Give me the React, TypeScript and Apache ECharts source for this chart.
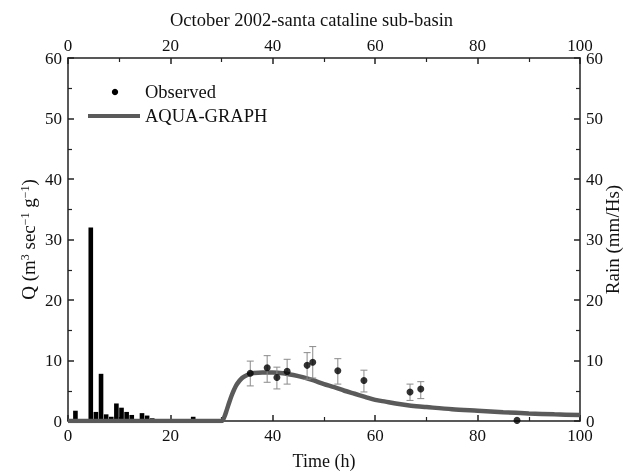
import React, { useEffect, useRef } from "react";
import * as echarts from "echarts";

const TITLE = "October 2002-santa cataline sub-basin";
const X_NAME = "Time (h)";
const RAIN_NAME = "Rain (mm/Hs)";

// Rain: hourly intervals (start hour) and intensity (mm/Hs)
const rainStart = [1, 4, 5, 6, 7, 8, 9, 10, 11, 12, 14, 15, 16, 24];
const rainValue = [1.7, 32, 1.5, 7.8, 1.1, 0.7, 2.9, 2.2, 1.5, 1.0, 1.3, 0.9, 0.45, 0.7];

// Observed discharge with error bars
const obsT = [35.6, 38.9, 40.8, 42.8, 46.7, 47.8, 52.7, 57.8, 66.8, 68.9, 87.7];
const obsQ = [7.9, 8.8, 7.2, 8.2, 9.2, 9.7, 8.3, 6.7, 4.8, 5.3, 0.1];
const errLo = [5.8, 6.4, 5.3, 6.1, 6.9, 7.1, 6.1, 4.8, 3.4, 3.7];
const errHi = [9.9, 10.8, 8.9, 10.2, 11.3, 12.3, 10.3, 8.4, 6.1, 6.5];

// AQUA-GRAPH model
const modelT = [0, 30, 30.5, 31, 31.5, 32, 32.5, 33, 34, 35, 36, 38, 40, 42, 44, 46, 48, 50, 52, 54, 56, 58, 60, 62, 64, 66, 68, 70, 75, 80, 85, 90, 95, 100];
const modelQ = [0, 0, 0.6, 1.8, 3.1, 4.3, 5.3, 6.1, 7.1, 7.6, 7.9, 8.0, 8.0, 7.9, 7.6, 7.2, 6.7, 6.1, 5.6, 5.0, 4.5, 4.0, 3.5, 3.2, 2.9, 2.65, 2.45, 2.3, 1.95, 1.7, 1.45, 1.25, 1.1, 1.0];

const FONT = "Liberation Serif";
const AX = "#222";

export default function App() {
  const ref = useRef<HTMLDivElement>(null);
  useEffect(() => {
    if (!ref.current) return;
    const chart = echarts.init(ref.current, undefined, { renderer: "svg" });
    const axisCommon = {
      type: "value",
      min: 0,
      interval: 20,
      max: 100,
      nameMoveOverlap: false,
      axisLine: { show: true, onZero: false, lineStyle: { color: AX, width: 1.5 } },
      axisTick: { show: true, inside: true, length: 6, lineStyle: { color: AX, width: 1.5 } },
      minorTick: { show: true, splitNumber: 2, length: 4, lineStyle: { color: AX, width: 1.2 } },
      splitLine: { show: false },
      axisLabel: { color: "#111", fontFamily: FONT, fontSize: 17, margin: 6 },
    };
    const yCommon = {
      ...axisCommon,
      max: 60,
      interval: 10,
    };
    chart.setOption({
      animation: false,
      textStyle: { fontFamily: FONT },
      title: {
        text: TITLE,
        left: "center",
        top: 5,
        textStyle: { fontFamily: FONT, fontWeight: "normal", fontSize: 18.5, color: "#111" },
      },
      grid: { left: 68, right: 43, top: 58, bottom: 52, outerBoundsMode: "none", containLabel: false },
      xAxis: [
        {
          ...axisCommon,
          position: "bottom",
          name: X_NAME,
          nameLocation: "middle",
          nameGap: 31,
          nameTextStyle: { fontFamily: FONT, fontSize: 18, color: "#111" },
        },
        { ...axisCommon, position: "top", axisLabel: { ...axisCommon.axisLabel, margin: 4 } },
      ],
      yAxis: [
        {
          ...yCommon,
          position: "left",
          name: "Q (m{sup|3} sec{sup|−1} g{sup|−1})",
          nameLocation: "middle",
          nameGap: 30,
          nameRotate: 90,
          nameTextStyle: {
            fontFamily: FONT,
            fontSize: 19,
            color: "#111",
            rich: { sup: { fontFamily: FONT, fontSize: 12, verticalAlign: "top", color: "#111" } },
          },
        },
        {
          ...yCommon,
          position: "right",
          name: RAIN_NAME,
          nameLocation: "middle",
          nameGap: 23,
          nameRotate: 90,
          nameTextStyle: { fontFamily: FONT, fontSize: 19, color: "#111" },
        },
      ],
      graphic: [
        { type: "circle", shape: { cx: 115, cy: 92, r: 3.2 }, style: { fill: "#000" }, z: 10 },
        { type: "text", x: 145, y: 92, style: { text: "Observed", fontFamily: FONT, fontSize: 18.5, fill: "#111", verticalAlign: "middle" }, z: 10 },
        { type: "line", shape: { x1: 88, y1: 116, x2: 140, y2: 116 }, style: { stroke: "#5a5a5a", lineWidth: 4 }, z: 10 },
        { type: "text", x: 145, y: 116, style: { text: "AQUA-GRAPH", fontFamily: FONT, fontSize: 18.5, fill: "#111", verticalAlign: "middle" }, z: 10 },
      ],
      series: [
        {
          name: "Rain",
          type: "custom",
          xAxisIndex: 0,
          yAxisIndex: 1,
          data: rainStart.map((s, i) => [s, rainValue[i]]),
          renderItem: (params: any, api: any) => {
            const s = api.value(0);
            const v = api.value(1);
            const p0 = api.coord([s, v]);
            const p1 = api.coord([s + 1, 0]);
            return {
              type: "rect",
              shape: { x: p0[0], y: p0[1], width: p1[0] - p0[0] - 0.5, height: p1[1] - p0[1] },
              style: { fill: "#000" },
            };
          },
          z: 2,
        },
        {
          name: "AQUA-GRAPH",
          type: "line",
          xAxisIndex: 0,
          yAxisIndex: 0,
          data: modelT.map((t, i) => [t, modelQ[i]]),
          smooth: 0.3,
          showSymbol: false,
          symbol: "none",
          lineStyle: { color: "#5a5a5a", width: 4.5 },
          z: 3,
        },
        {
          name: "Error",
          type: "custom",
          xAxisIndex: 0,
          yAxisIndex: 0,
          data: errLo.map((lo, i) => [obsT[i], lo, errHi[i]]),
          renderItem: (params: any, api: any) => {
            const t = api.value(0);
            const lo = api.coord([t, api.value(1)]);
            const hi = api.coord([t, api.value(2)]);
            const c = 3.5;
            const st = { stroke: "#8a8a8a", lineWidth: 1 };
            return {
              type: "group",
              children: [
                { type: "line", shape: { x1: lo[0], y1: lo[1], x2: hi[0], y2: hi[1] }, style: st },
                { type: "line", shape: { x1: lo[0] - c, y1: lo[1], x2: lo[0] + c, y2: lo[1] }, style: st },
                { type: "line", shape: { x1: hi[0] - c, y1: hi[1], x2: hi[0] + c, y2: hi[1] }, style: st },
              ],
            };
          },
          z: 4,
        },
        {
          name: "Observed",
          type: "scatter",
          xAxisIndex: 0,
          yAxisIndex: 0,
          data: obsT.map((t, i) => [t, obsQ[i]]),
          symbolSize: 7,
          itemStyle: { color: "#000" },
          z: 5,
        },
      ],
    });
    return () => chart.dispose();
  }, []);
  return <div ref={ref} style={{ position: "fixed", left: 0, top: 0, width: 623, height: 473 }} />;
}
